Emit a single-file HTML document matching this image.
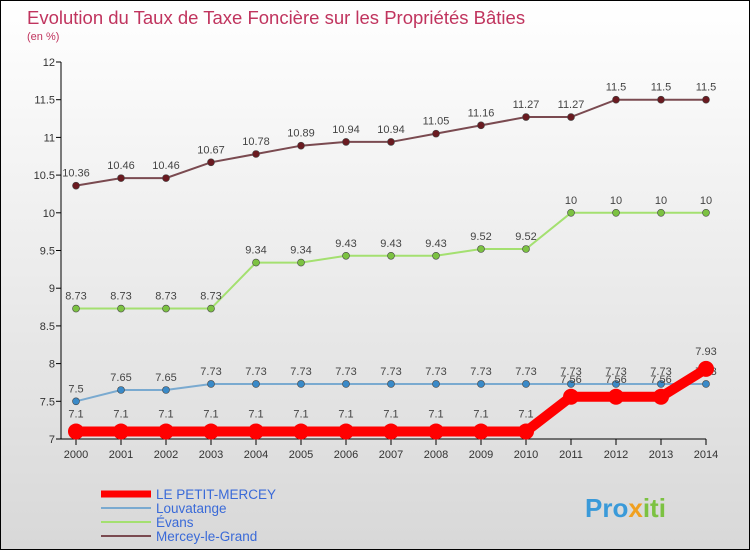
<!DOCTYPE html>
<html><head><meta charset="utf-8"><style>
body{margin:0}
#c{width:750px;height:550px;position:relative;box-sizing:border-box;border:1px solid #000;background:linear-gradient(#fff,#d8d8d8);font-family:"Liberation Sans",sans-serif;overflow:hidden}
</style></head><body>
<div id="c">
<svg id="s" width="750" height="550" style="position:absolute;left:0;top:0">
<text x="26" y="23" font-size="18.5" fill="#c0345e">Evolution du Taux de Taxe Foncière sur les Propriétés Bâties</text>
<text x="26" y="39" font-size="11" fill="#c0345e">(en %)</text>
<text x="584" y="516" font-size="26" font-weight="bold" fill="#3a9ad9">Pro<tspan fill="#f0a020">x</tspan><tspan fill="#7cc242">iti</tspan></text>
</svg>
</div>
<script>
const years=[2000,2001,2002,2003,2004,2005,2006,2007,2008,2009,2010,2011,2012,2013,2014];
const yTicks=[7,7.5,8,8.5,9,9.5,10,10.5,11,11.5,12];
const petitMercey=[7.1,7.1,7.1,7.1,7.1,7.1,7.1,7.1,7.1,7.1,7.1,7.56,7.56,7.56,7.93];
const louvatange=[7.5,7.65,7.65,7.73,7.73,7.73,7.73,7.73,7.73,7.73,7.73,7.73,7.73,7.73,7.73];
const evans=[8.73,8.73,8.73,8.73,9.34,9.34,9.43,9.43,9.43,9.52,9.52,10,10,10,10];
const merceyGrand=[10.36,10.46,10.46,10.67,10.78,10.89,10.94,10.94,11.05,11.16,11.27,11.27,11.5,11.5,11.5];
const s=document.getElementById('s');const NS='http://www.w3.org/2000/svg';
const X=i=>75+i*45, Y=v=>438-(v-7)*75.4;
function mk(t,a,p){const e=document.createElementNS(NS,t);for(const k in a)e.setAttribute(k,a[k]);(p||s).appendChild(e);return e;}
const ax=mk('line',{x1:60,y1:61,x2:60,y2:438,stroke:'#000'});


const xa=mk('line',{x1:60,y1:438,x2:705,y2:438,stroke:'#000'});


yTicks.forEach(v=>{mk('line',{x1:55,y1:Y(v),x2:60,y2:Y(v),stroke:'#000'});
const t=mk('text',{x:54,y:Y(v)+4,'font-size':11,fill:'#333','text-anchor':'end'});t.textContent=v;

});
years.forEach((y,i)=>{mk('line',{x1:X(i),y1:438,x2:X(i),y2:444,stroke:'#000'});
const t=mk('text',{x:X(i),y:457,'font-size':11,fill:'#333','text-anchor':'middle'});t.textContent=y;

});
function series(d,col,dot,w,r,name){const g=mk('g',{});


mk('polyline',{points:d.map((v,i)=>X(i)+','+Y(v)).join(' '),fill:'none',stroke:col,'stroke-width':w},g);
d.forEach((v,i)=>{const c=mk('circle',{cx:X(i),cy:Y(v),r:r,fill:dot,stroke:'#444','stroke-width':r>5?0:0.6},g);


const t=mk('text',{x:X(i),y:Y(v)-9-(r>5?5:0),'font-size':11,fill:'#444','text-anchor':'middle'},g);t.textContent=v;});}
series(merceyGrand,'#7a4a50','#6a1a20',2,3.5,'series-mercey-le-grand');
series(evans,'#a4e070','#7cc242',2,3.5,'series-evans');
series(louvatange,'#7aaad0','#3a8ac8',2,3.5,'series-louvatange');
series(petitMercey,'#ff0000','#ff0000',10,8,'series-le-petit-mercey');
const leg=[['LE PETIT-MERCEY','#ff0000',7],['Louvatange','#7aaad0',2],['Évans','#a4e070',2],['Mercey-le-Grand','#7a4a50',2]];
leg.forEach((l,i)=>{const g=mk('g',{});


const y=493+i*14;mk('line',{x1:100,y1:y,x2:150,y2:y,stroke:l[1],'stroke-width':l[2]},g);
const t=mk('text',{x:155,y:y+5,'font-size':13.5,fill:'#3a6ad8'},g);t.textContent=l[0];});
</script>
</body></html>
